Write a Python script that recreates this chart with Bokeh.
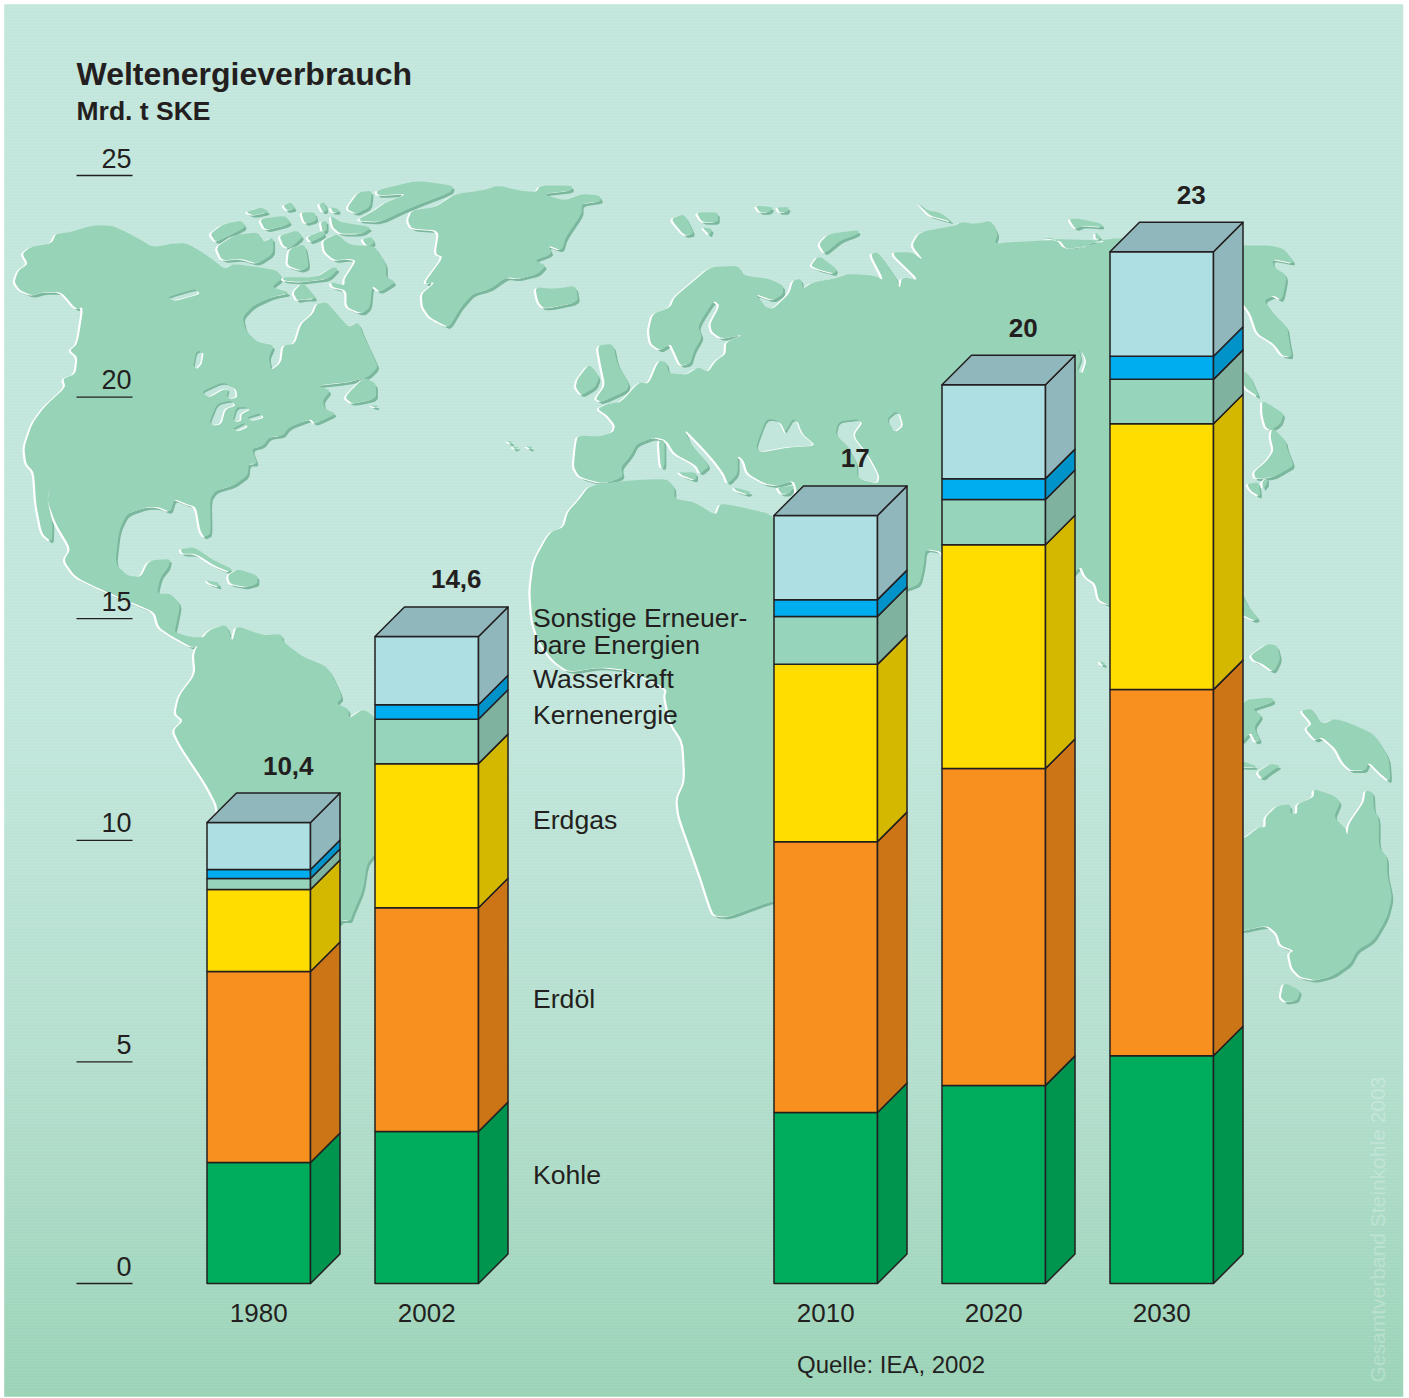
from bokeh.embed import file_html
from bokeh.models import Range1d
from bokeh.plotting import figure
from bokeh.resources import INLINE
from bokeh.core.properties import value
import numpy as np

# ---- chart data (Mrd. t SKE) ----
years = ["1980", "2002", "2010", "2020", "2030"]
kohle = [2.73, 3.43, 3.86, 4.47, 5.14]
erdoel = [4.31, 5.05, 6.11, 7.15, 8.26]
erdgas = [1.85, 3.25, 4.00, 5.05, 6.00]
kernenergie = [0.25, 1.00, 1.08, 1.02, 1.00]
wasserkraft = [0.20, 0.33, 0.38, 0.47, 0.52]
sonstige = [1.06, 1.54, 1.90, 2.12, 2.36]
total_labels = ["10,4", "14,6", "17", "20", "23"]
axis_ticks = [0, 5, 10, 15, 20, 25]

legend_texts = ["Sonstige Erneuer-", "bare Energien", "Wasserkraft", "Kernenergie", "Erdgas", "Erdöl", "Kohle"]
legend_baselines = [617, 644, 678, 714, 819, 998, 1174]

# ---- layer styling ----
layers = [kohle, erdoel, erdgas, kernenergie, wasserkraft, sonstige]
front_colors = ["#00ad5c", "#f7901e", "#ffdd00", "#97d4bc", "#00aeef", "#aedfe3"]
side_colors = ["#00954f", "#cc7516", "#d4b800", "#7fb3a0", "#0093c9", "#90b8bc"]
top_color = "#90b8bc"
ink = "#231f20"

# ---- geometry of the pseudo-3D columns ----
WIDTH, HEIGHT = 1409, 1398
SLOT_PX = 168.0
SLOT0_PX = 258.25
ZERO_PX = 1283.0
UNIT_PX = 44.32
slots = np.array([0, 1, 3.375, 4.375, 5.375])
bar_w = 103.5 / SLOT_PX
depth_x = 29.5 / SLOT_PX
depth_y = 29.5 / UNIT_PX

# ---- coastline frames: (origin x, origin y, scale x, scale y) ----
WEST = (0, 170, 1568 / 620, 3)
EAST = (500, 190, 1568 / 620, 3)
FAR = (1040, 200, 3, 3)
PACIFIC = (1040, 620, 3, 3)
MID = (140, 560, 2.45, 3)


def fr(frame, pts):
    ox, oy, sx, sy = frame
    return [(ox + x / sx, oy + y / sy) for x, y in pts]


def soften(poly, rounds=2, cut=0.16):
    pts = np.array(poly, dtype=float)
    for _ in range(rounds):
        nxt = np.roll(pts, -1, axis=0)
        q = (1 - cut) * pts + cut * nxt
        r = cut * pts + (1 - cut) * nxt
        pts = np.empty((len(q) * 2, 2))
        pts[0::2] = q
        pts[1::2] = r
    return pts


north_america = fr(WEST, [
    (35, 335), (45, 300), (70, 280), (55, 250), (75, 230), (130, 218), (140, 190), (175, 185), (230, 165), (280, 165),
    (310, 180), (350, 205), (385, 230), (430, 220), (470, 218), (510, 245), (540, 270), (565, 295), (590, 280),
    (650, 290), (700, 300), (712, 325), (685, 350), (735, 368), (690, 378), (640, 405), (612, 440), (620, 480),
    (650, 515), (692, 525), (678, 560), (685, 600), (710, 575), (715, 525), (745, 520), (760, 460), (790, 430),
    (800, 400), (825, 395), (850, 430), (880, 470), (905, 455), (920, 500), (942, 555), (955, 590), (930, 620),
    (880, 635), (800, 645), (835, 660), (815, 690), (820, 715), (850, 730), (795, 760), (785, 745), (730, 770),
    (715, 795), (680, 800), (665, 825), (635, 835), (650, 880), (628, 880), (625, 915), (590, 945), (545, 960),
    (530, 985), (532, 1090), (515, 1100), (505, 1080), (495, 1010), (470, 1000), (440, 985), (430, 1025), (400, 1010),
    (370, 1010), (320, 1030), (300, 1080), (290, 1180), (320, 1215), (355, 1220), (375, 1170), (430, 1165), (425, 1190),
    (405, 1220), (395, 1270), (430, 1270), (455, 1300), (445, 1360), (440, 1385), (480, 1400), (525, 1400), (490, 1435),
    (430, 1395), (400, 1370), (390, 1325), (340, 1300), (260, 1260), (190, 1220), (160, 1170), (178, 1135), (140, 1060),
    (118, 990), (127, 952), (118, 985), (132, 1060), (130, 1115), (105, 1090), (90, 1000), (85, 905), (65, 880),
    (60, 830), (80, 760), (110, 710), (165, 650), (158, 625), (190, 610), (195, 560), (175, 540), (195, 520), (210, 410),
    (190, 415), (155, 365), (110, 365), (80, 375), (50, 360),
])

greenland = fr(WEST, [
    (1040, 120), (1100, 110), (1150, 70), (1215, 60), (1260, 45), (1310, 60), (1355, 65), (1365, 45), (1445, 45),
    (1445, 60), (1370, 70), (1425, 90), (1470, 70), (1515, 75), (1520, 92), (1470, 100), (1470, 130), (1430, 200),
    (1420, 240), (1385, 225), (1395, 250), (1350, 270), (1380, 285), (1360, 310), (1310, 325), (1280, 320), (1240, 355),
    (1195, 370), (1165, 410), (1135, 470), (1115, 460), (1085, 440), (1068, 410), (1065, 370), (1100, 335), (1070, 340),
    (1120, 260), (1100, 250), (1110, 180), (1040, 175), (1030, 150),
])

arctic_islands = [fr(WEST, p) for p in [
    [(530, 190), (565, 160), (610, 150), (620, 170), (580, 195), (545, 215)],
    [(545, 230), (590, 195), (650, 185), (665, 215), (690, 200), (690, 250), (650, 280), (610, 265), (560, 270)],
    [(620, 125), (660, 110), (680, 125), (640, 135)],
    [(655, 145), (720, 135), (735, 160), (670, 180)],
    [(715, 105), (735, 95), (745, 115), (725, 120)],
    [(760, 125), (795, 125), (800, 150), (770, 160)],
    [(805, 100), (820, 95), (825, 120), (815, 125)],
    [(810, 155), (825, 150), (825, 180), (815, 185)],
    [(835, 110), (855, 115), (855, 125), (840, 125)],
    [(875, 115), (905, 65), (940, 60), (935, 110), (900, 130)],
    [(950, 60), (1050, 30), (1145, 45), (1140, 65), (1040, 110), (960, 155), (900, 150), (945, 120), (975, 95), (1030, 70), (955, 75)],
    [(835, 135), (860, 155), (940, 170), (915, 190), (860, 190), (840, 170)],
    [(705, 195), (750, 180), (765, 200), (730, 235), (715, 225)],
    [(775, 200), (815, 180), (820, 195), (785, 215)],
    [(815, 210), (850, 190), (880, 220), (900, 225), (945, 225), (975, 280), (975, 320), (1000, 335), (960, 365), (940, 345),
     (935, 410), (915, 430), (875, 410), (875, 360), (840, 350), (835, 335), (870, 345), (870, 325), (900, 270), (880, 265),
     (845, 270), (820, 245)],
    [(915, 205), (940, 200), (945, 220), (925, 225)],
    [(730, 235), (770, 220), (780, 290), (760, 300), (725, 285)],
    [(740, 365), (765, 335), (800, 385), (770, 385), (750, 390)],
    [(715, 320), (800, 320), (840, 290), (855, 295), (830, 325), (760, 335), (715, 330)],
    [(870, 680), (920, 620), (950, 640), (950, 685), (890, 700)],
    [(935, 705), (955, 705), (950, 712)],
    [(1352, 350), (1400, 355), (1455, 345), (1462, 395), (1375, 415), (1360, 395)],
    [(455, 1135), (490, 1130), (540, 1170), (585, 1195), (580, 1205), (540, 1185), (495, 1150), (460, 1150)],
    [(575, 1215), (600, 1195), (650, 1215), (650, 1240), (620, 1250), (580, 1240)],
    [(520, 1230), (550, 1235), (555, 1250), (530, 1240)],
    [(1280, 810), (1296, 815), (1290, 820)],
    [(1295, 828), (1312, 830), (1300, 836)],
    [(1328, 826), (1346, 830), (1340, 836)],
]]

south_america = fr(MID, [
    (130, 275), (165, 210), (210, 190), (225, 245), (235, 195), (300, 225), (345, 220), (350, 245), (400, 290), (460, 320),
    (495, 410), (480, 430), (510, 445), (510, 475), (545, 445), (575, 470),
]) + [(400, 760), (400, 830)] + fr(MID, [
    (575, 880), (555, 910), (545, 990), (520, 1060), (515, 1080), (490, 1080),
]) + [(320, 950), (260, 900), (215, 830)] + fr(MID, [
    (190, 740), (160, 670), (100, 560), (80, 510), (105, 480), (85, 460), (95, 405), (135, 340),
])

africa = fr(EAST, [
    (700, 975), (590, 945), (555, 940), (545, 975), (490, 935), (440, 925), (440, 890), (420, 865), (320, 870), (225, 885),
    (200, 925), (170, 965), (160, 1010), (125, 1025), (85, 1110), (75, 1200),
]) + fr(MID, [
    (960, 180), (975, 240), (1010, 300), (1050, 335), (1130, 320), (1200, 330), (1290, 385), (1285, 410), (1300, 490),
    (1330, 545), (1335, 660), (1315, 715), (1320, 770), (1370, 940), (1395, 1035), (1405, 1065), (1440, 1070), (1540, 1025),
    (1560, 1020),
]) + [(800, 880), (800, 600)]

eurasia = fr(EAST, [
    (195, 735), (250, 738), (285, 725), (290, 705), (270, 675), (245, 655), (270, 640), (305, 635), (350, 575), (375, 580),
    (400, 510), (420, 515), (425, 548), (445, 550), (470, 553), (500, 530), (525, 545), (545, 510), (570, 490), (570, 455),
    (615, 432), (560, 445), (535, 425), (530, 400), (555, 345), (540, 330), (510, 385), (500, 410), (510, 440), (490, 480),
    (480, 520), (455, 525), (440, 485), (430, 460), (405, 480), (380, 460), (375, 420), (385, 370), (430, 350), (440, 320),
    (490, 270), (530, 230), (600, 225), (615, 255), (680, 265), (715, 285), (715, 310), (690, 330), (645, 310), (670, 350),
    (690, 355), (730, 310), (740, 270), (760, 265), (765, 295), (790, 275), (840, 265), (880, 250), (945, 255), (970, 270),
    (935, 190), (955, 185), (1000, 260), (1010, 295), (1015, 260), (1060, 270), (985, 185), (1040, 185), (1070, 210),
    (1040, 165), (1060, 125), (1150, 105), (1165, 95), (1200, 100), (1240, 90), (1258, 130), (1250, 160), (1290, 155),
    (1370, 150), (1415, 150), (1430, 175), (1470, 170), (1540, 150),
]) + fr(FAR, [
    (0, 115), (40, 112), (70, 145), (120, 145), (175, 120), (240, 112), (610, 135), (690, 135), (730, 145), (765, 190),
    (695, 175), (700, 200), (740, 225), (725, 300), (700, 285), (670, 300), (700, 340), (740, 380), (745, 415), (755, 470),
    (725, 465), (700, 430), (650, 400), (630, 340), (600, 300), (500, 700), (400, 1100), (210, 1215), (175, 1200), (165, 1150),
    (135, 1130), (120, 1095),
]) + [(1060, 590), (960, 590)] + fr(EAST, [
    (1120, 1085), (1075, 1075), (1070, 1130), (1060, 1180), (1030, 1195),
]) + [(850, 600), (790, 530)] + fr(EAST, [
    (750, 905), (742, 870), (700, 885), (670, 880), (625, 850), (615, 810), (600, 795), (600, 850), (575, 880), (565, 850),
    (540, 810), (510, 770), (465, 715), (480, 760), (530, 825), (505, 850), (495, 825), (440, 790), (420, 750), (390, 740),
    (345, 760), (330, 795), (305, 830), (310, 860), (260, 880), (200, 860), (185, 830), (190, 770),
])

old_world_islands = [fr(EAST, p) for p in [
    [(245, 465), (285, 460), (295, 520), (325, 580), (320, 600), (255, 635), (240, 625), (265, 585), (255, 530)],
    [(195, 565), (225, 520), (250, 560), (240, 590), (205, 615), (190, 590)],
    [(430, 85), (465, 70), (490, 130), (465, 135)],
    [(495, 65), (550, 65), (550, 95), (510, 95)],
    [(510, 110), (535, 115), (530, 135)],
    [(645, 45), (690, 50), (680, 65), (655, 65)],
    [(700, 50), (730, 50), (725, 65), (705, 65)],
    [(805, 160), (830, 130), (905, 118), (905, 130), (860, 150), (820, 190)],
    [(785, 225), (805, 195), (850, 235), (845, 250), (800, 235)],
    [(1055, 35), (1080, 60), (1110, 65), (1145, 95), (1115, 85), (1085, 75)],
    [(400, 750), (415, 750), (415, 830), (405, 830)],
    [(450, 845), (495, 845), (495, 870), (460, 855)],
    [(590, 890), (635, 905), (625, 912), (595, 900)],
    [(700, 890), (745, 885), (730, 910), (710, 910)],
]] + [fr(FAR, p) for p in [
    [(85, 55), (120, 55), (185, 70), (185, 80), (130, 75), (105, 85)],
    [(165, 95), (185, 115), (165, 115)],
    [(610, 510), (630, 530), (650, 575), (655, 590), (610, 560)],
    [(665, 600), (700, 620), (730, 640), (720, 670), (690, 690), (675, 680), (665, 640)],
    [(695, 680), (735, 720), (740, 745), (760, 795), (735, 810), (700, 830), (645, 835), (640, 815), (680, 780), (700, 750), (690, 710)],
    [(620, 850), (655, 845), (660, 890), (630, 870)],
    [(665, 845), (680, 830), (680, 850), (668, 865)],
    [(600, 1170), (625, 1220), (655, 1255), (640, 1260), (600, 1240)],
]]

oceania = [fr(PACIFIC, p) for p in [
    [(560, 655), (610, 655), (655, 620), (675, 620), (675, 590), (710, 555), (750, 552), (750, 580), (770, 580), (770, 550),
     (820, 530), (820, 505), (880, 525), (900, 545), (880, 590), (915, 625), (920, 645), (925, 610), (970, 545), (975, 510),
     (998, 515), (1000, 570), (1015, 590), (1015, 680), (1040, 710), (1040, 760), (1055, 830), (1040, 890), (1000, 960),
     (950, 990), (930, 1030), (880, 1065), (825, 1080), (780, 1070), (755, 1045), (745, 1000), (760, 990), (720, 975),
     (710, 940), (680, 915), (610, 930), (560, 930)],
    [(730, 1085), (780, 1110), (770, 1140), (735, 1145), (720, 1130)],
    [(780, 270), (815, 265), (835, 300), (850, 310), (880, 295), (920, 305), (1000, 340), (1045, 410), (1050, 485), (1020, 460),
     (985, 425), (975, 450), (930, 450), (905, 425), (885, 385), (845, 350), (825, 360), (795, 325), (815, 310)],
    [(600, 240), (695, 230), (700, 245), (635, 265), (665, 285), (640, 320), (660, 360), (645, 365), (630, 335), (600, 370)],
    [(650, 455), (690, 430), (720, 435), (690, 455), (665, 475)],
    [(600, 420), (655, 440), (600, 440)],
    [(630, 105), (680, 70), (710, 75), (720, 115), (700, 155), (665, 130), (640, 120)],
    [(178, 122), (190, 125), (195, 135), (182, 132)],
]]

inland_waters = [fr(WEST, p) for p in [
    [(425, 385), (495, 360), (500, 370), (440, 390)],
    [(497, 550), (510, 545), (505, 580), (490, 597)],
    [(512, 668), (565, 640), (592, 655), (595, 680), (575, 685), (580, 660), (560, 655), (525, 680)],
    [(530, 765), (550, 705), (585, 695), (590, 705), (565, 715), (555, 760)],
    [(590, 755), (600, 715), (630, 715), (605, 730), (605, 750)],
    [(590, 780), (620, 762), (620, 770), (600, 780)],
    [(628, 745), (660, 733), (660, 742), (632, 750)],
]] + [fr(EAST, p) for p in [
    [(650, 770), (675, 690), (705, 695), (720, 735), (745, 685), (760, 730), (795, 765), (720, 770), (655, 785)],
    [(850, 735), (858, 698), (915, 690), (888, 735), (925, 790), (955, 855), (950, 878), (905, 865), (905, 825), (880, 770)],
    [(980, 690), (1005, 665), (1015, 705), (995, 725)],
    [(1465, 480), (1478, 510), (1468, 548), (1462, 540), (1472, 510)],
]]

land = [north_america, greenland, south_america, africa, eurasia] + arctic_islands + old_world_islands + oceania
land_xy = [soften(p) for p in land]
water_xy = [soften(p) for p in inland_waters]

# ---- page: coordinates in two systems, value scale for bars and page scale for the backdrop ----
p = figure(
    width=WIDTH, height=HEIGHT, output_backend="svg", toolbar_location=None,
    x_axis_location=None, y_axis_location=None, min_border=0,
    x_range=Range1d(-SLOT0_PX / SLOT_PX, (WIDTH - SLOT0_PX) / SLOT_PX),
    y_range=Range1d((ZERO_PX - HEIGHT) / UNIT_PX, ZERO_PX / UNIT_PX),
)
p.grid.visible = False
p.outline_line_color = None
p.background_fill_color = "white"
p.border_fill_color = "white"
p.extra_x_ranges = {"page": Range1d(0, WIDTH)}
p.extra_y_ranges = {"page": Range1d(HEIGHT, 0)}
page = dict(x_range_name="page", y_range_name="page")

# Vertical backdrop gradient drawn as thin strips
PANEL_L, PANEL_R, PANEL_T, PANEL_B = 4, 1402.5, 4, 1398
edges = np.arange(PANEL_T, PANEL_B + 1, 3.0)
stops_y = [4, 700, 1050, 1398]
stops_rgb = np.array([[195, 230, 220], [194, 230, 220], [181, 223, 207], [155, 211, 183]])
mid = (edges[:-1] + edges[1:]) / 2
strip_colors = ["#%02x%02x%02x" % tuple(int(round(np.interp(m, stops_y, stops_rgb[:, c]))) for c in range(3)) for m in mid]
p.quad(left=PANEL_L, right=PANEL_R, top=edges[:-1], bottom=edges[1:], fill_color=strip_colors,
       line_color=strip_colors, line_width=0.5, **page)

# World map: shaded edge, highlight edge, then the land itself
LAND, SHADE, LIGHT = "#97d3b7", "#7ab79c", "#ffffff"
for dx, dy, colour in [(1.8, 2.6, SHADE), (-2.2, 0.6, LIGHT), (0, 0, LAND)]:
    p.patches([list(a[:, 0] + dx) for a in land_xy], [list(a[:, 1] + dy) for a in land_xy],
              fill_color=colour, line_color=None, **page)
for dx, dy, colour in [(-1.2, -1.6, SHADE), (1.6, 0.4, LIGHT), (0, 0, "#c3e6dc")]:
    p.patches([list(a[:, 0] + dx) for a in water_xy], [list(a[:, 1] + dy) for a in water_xy],
              fill_color=colour, line_color=None, **page)

# Stacked columns with side and top faces
stack = np.vstack([np.zeros(len(years)), np.cumsum(np.array(layers), axis=0)])
x_l = slots - bar_w / 2
x_r = slots + bar_w / 2
for i in range(len(layers)):
    lo, hi = stack[i], stack[i + 1]
    p.quad(left=x_l, right=x_r, bottom=lo, top=hi, fill_color=front_colors[i], line_color=ink, line_width=1.5)
    side_x = [[xr, xr + depth_x, xr + depth_x, xr] for xr in x_r]
    side_y = [[a, a + depth_y, b + depth_y, b] for a, b in zip(lo, hi)]
    p.patches(side_x, side_y, fill_color=side_colors[i], line_color=ink, line_width=1.5, line_join="round")
totals = stack[-1]
top_x = [[a, b, b + depth_x, a + depth_x] for a, b in zip(x_l, x_r)]
top_y = [[t, t, t + depth_y, t + depth_y] for t in totals]
p.patches(top_x, top_y, fill_color=top_color, line_color=ink, line_width=1.5, line_join="round")

FONT = value("Liberation Sans")

# Value scale: a short rule per tick with the number sitting on top of it
p.segment(x0=76, x1=132, y0=[ZERO_PX - v * UNIT_PX for v in axis_ticks], y1=[ZERO_PX - v * UNIT_PX for v in axis_ticks],
          line_color=ink, line_width=1.3, **page)
p.text(x=131, y=[ZERO_PX - v * UNIT_PX for v in axis_ticks], text=[str(v) for v in axis_ticks], text_align="right",
       text_baseline="alphabetic", text_font=FONT, text_font_size="27px", text_color=ink, y_offset=-17.5, **page)

# Year labels and column totals
p.text(x=slots, y=[0] * len(years), text=years, text_align="center", text_baseline="alphabetic", text_font=FONT,
       text_font_size="26px", text_color=ink, y_offset=29.5)
p.text(x=slots + depth_x, y=totals + depth_y, text=total_labels, text_align="center", text_baseline="alphabetic",
       text_font=FONT, text_font_style="bold", text_font_size="26px", text_color=ink, y_offset=-27.5)

# Series names between the historic and projected columns
p.text(x=532.5, y=legend_baselines, text=legend_texts, text_baseline="alphabetic", text_font=FONT, text_font_size="26.6px",
       text_color=ink, **page)

# Headings, source and copyright
p.text(x=[76], y=[73], text=["Weltenergieverbrauch"], text_baseline="alphabetic", text_font=FONT, text_font_style="bold",
       text_font_size="32px", text_color=ink, **page)
p.text(x=[76], y=[110], text=["Mrd. t SKE"], text_baseline="alphabetic", text_font=FONT, text_font_style="bold",
       text_font_size="26.5px", text_color=ink, **page)
p.text(x=[796.5], y=[1364], text=["Quelle: IEA, 2002"], text_baseline="alphabetic", text_font=FONT, text_font_size="24px",
       text_color=ink, **page)
p.text(x=[1377], y=[1382], text=["Gesamtverband Steinkohle 2003"], angle=np.pi / 2, text_baseline="alphabetic", text_font=FONT,
       text_font_size="21px", text_color="#ffffff", text_alpha=0.25, **page)

open("out.html", "w").write(file_html(p, INLINE))
